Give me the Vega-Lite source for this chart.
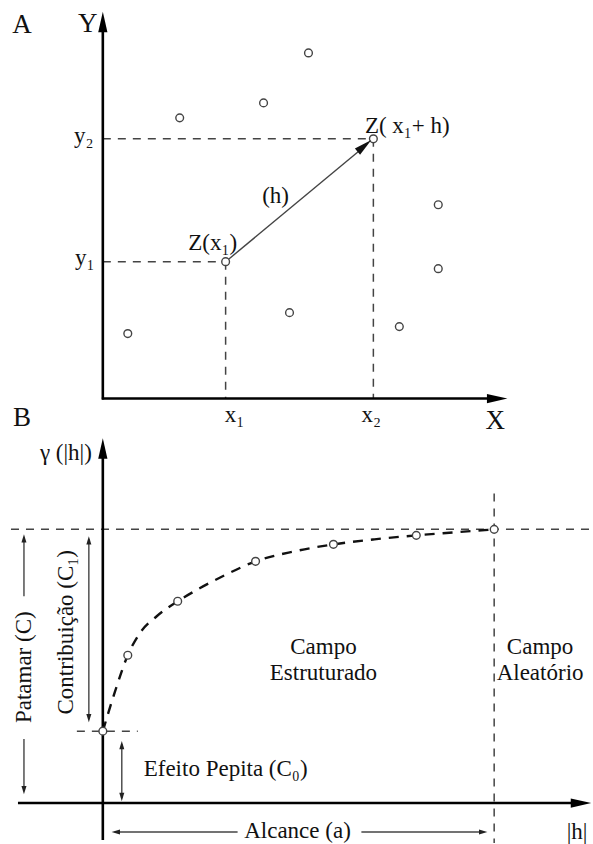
{
  "$schema": "https://vega.github.io/schema/vega-lite/v6.json",
  "width": 593,
  "height": 844,
  "padding": 0,
  "autosize": {"type": "fit", "contains": "padding"},
  "background": "white",
  "config": {"view": {"stroke": null}},
  "datasets": {
    "dashed": [
      {"x": 103, "y": 139, "x2": 374, "y2": 139},
      {"x": 103, "y": 262, "x2": 226, "y2": 262},
      {"x": 226, "y": 262, "x2": 226, "y2": 399},
      {"x": 374, "y": 139, "x2": 374, "y2": 399},
      {"x": 11, "y": 530, "x2": 593, "y2": 530},
      {"x": 495, "y": 494, "x2": 495, "y2": 844},
      {"x": 77, "y": 732, "x2": 138, "y2": 732}
    ],
    "thin": [
      {"x": 226, "y": 262, "x2": 366, "y2": 146},
      {"x": 24, "y": 540, "x2": 24, "y2": 597},
      {"x": 24, "y": 740, "x2": 24, "y2": 792},
      {"x": 89, "y": 540, "x2": 89, "y2": 720},
      {"x": 122, "y": 745, "x2": 122, "y2": 799},
      {"x": 115, "y": 833, "x2": 238, "y2": 833},
      {"x": 362, "y": 833, "x2": 485, "y2": 833}
    ],
    "axes": [
      {"x": 103, "y": 30, "x2": 103, "y2": 400},
      {"x": 102, "y": 399, "x2": 492, "y2": 399},
      {"x": 103, "y": 458, "x2": 103, "y2": 841},
      {"x": 18, "y": 804, "x2": 575, "y2": 804}
    ],
    "curve": [
      {"x": 103, "y": 732},
      {"x": 115, "y": 693},
      {"x": 128, "y": 656},
      {"x": 140, "y": 634},
      {"x": 157, "y": 617},
      {"x": 178, "y": 602},
      {"x": 200, "y": 589},
      {"x": 225, "y": 576},
      {"x": 256, "y": 562},
      {"x": 295, "y": 552},
      {"x": 334, "y": 545},
      {"x": 375, "y": 540},
      {"x": 417, "y": 536},
      {"x": 455, "y": 533},
      {"x": 495, "y": 530}
    ],
    "circles": [
      {"x": 180, "y": 118},
      {"x": 264, "y": 103},
      {"x": 309, "y": 53},
      {"x": 374, "y": 139},
      {"x": 226, "y": 262},
      {"x": 439, "y": 205},
      {"x": 439, "y": 269},
      {"x": 290, "y": 313},
      {"x": 400, "y": 327},
      {"x": 128, "y": 334},
      {"x": 103, "y": 732},
      {"x": 128, "y": 656},
      {"x": 178, "y": 602},
      {"x": 256, "y": 562},
      {"x": 334, "y": 545},
      {"x": 417, "y": 536},
      {"x": 495, "y": 530}
    ],
    "headsBig": [
      {"x": 103, "y": 22, "angle": -90},
      {"x": 498, "y": 399, "angle": 0},
      {"x": 103, "y": 449, "angle": -90},
      {"x": 582, "y": 804, "angle": 0}
    ],
    "headsMid": [
      {"x": 365, "y": 146, "angle": -39.7}
    ],
    "headsSmall": [
      {"x": 24, "y": 539, "angle": -90},
      {"x": 24, "y": 791, "angle": 90},
      {"x": 89, "y": 541, "angle": -90},
      {"x": 89, "y": 719, "angle": 90},
      {"x": 122, "y": 746, "angle": -90},
      {"x": 122, "y": 798, "angle": 90},
      {"x": 116, "y": 833, "angle": 180},
      {"x": 484, "y": 833, "angle": 0}
    ],
    "labelsBig": [
      {"x": 22, "y": 33, "t": "A"},
      {"x": 22, "y": 427, "t": "B"},
      {"x": 88, "y": 32, "t": "Y"},
      {"x": 496, "y": 430, "t": "X"}
    ],
    "labels": [
      {"x": 84, "y": 143, "t": "y₂"},
      {"x": 85, "y": 265, "t": "y₁"},
      {"x": 235, "y": 423, "t": "x₁"},
      {"x": 372, "y": 423, "t": "x₂"},
      {"x": 213, "y": 250, "t": "Z(x₁)"},
      {"x": 408, "y": 133, "t": "Z( x₁+ h)"},
      {"x": 276, "y": 203, "t": "(h)"},
      {"x": 66, "y": 461, "t": "γ (|h|)"},
      {"x": 226, "y": 777, "t": "Efeito Pepita (C₀)"},
      {"x": 324, "y": 655, "t": "Campo"},
      {"x": 324, "y": 681, "t": "Estruturado"},
      {"x": 541, "y": 655, "t": "Campo"},
      {"x": 541, "y": 681, "t": "Aleatório"},
      {"x": 298, "y": 839, "t": "Alcance (a)"},
      {"x": 578, "y": 840, "t": "|h|"}
    ],
    "labelsRot": [
      {"x": 31, "y": 668, "t": "Patamar (C)"},
      {"x": 73, "y": 633, "t": "Contribuição (C₁)"}
    ]
  },
  "encoding": {
    "x": {"field": "x", "type": "quantitative", "axis": null, "scale": {"domain": [0, 593], "nice": false, "zero": false}},
    "y": {"field": "y", "type": "quantitative", "axis": null, "scale": {"domain": [0, 844], "nice": false, "zero": false, "reverse": true}}
  },
  "layer": [
    {
      "data": {"name": "dashed"},
      "mark": {"type": "rule", "color": "#444", "strokeWidth": 1.5, "strokeDash": [8, 7]},
      "encoding": {"x2": {"field": "x2"}, "y2": {"field": "y2"}}
    },
    {
      "data": {"name": "thin"},
      "mark": {"type": "rule", "color": "#444", "strokeWidth": 1.4},
      "encoding": {"x2": {"field": "x2"}, "y2": {"field": "y2"}}
    },
    {
      "data": {"name": "curve"},
      "mark": {"type": "line", "color": "#111", "strokeWidth": 2.4, "strokeDash": [10, 8], "interpolate": "monotone"},
      "encoding": {}
    },
    {
      "data": {"name": "axes"},
      "mark": {"type": "rule", "color": "#000", "strokeWidth": 2.6},
      "encoding": {"x2": {"field": "x2"}, "y2": {"field": "y2"}}
    },
    {
      "data": {"name": "circles"},
      "mark": {"type": "point", "shape": "circle", "filled": true, "fill": "white", "stroke": "#444", "strokeWidth": 1.4, "size": 60, "opacity": 1},
      "encoding": {}
    },
    {
      "data": {"name": "headsBig"},
      "mark": {"type": "point", "shape": "M1,0L-1,-0.45L-1,0.45Z", "filled": true, "color": "#000", "size": 420, "opacity": 1},
      "encoding": {"angle": {"field": "angle", "type": "quantitative", "scale": null}}
    },
    {
      "data": {"name": "headsMid"},
      "mark": {"type": "point", "shape": "M1,0L-1,-0.45L-1,0.45Z", "filled": true, "color": "#111", "size": 324, "opacity": 1},
      "encoding": {"angle": {"field": "angle", "type": "quantitative", "scale": null}}
    },
    {
      "data": {"name": "headsSmall"},
      "mark": {"type": "point", "shape": "M1,0L-1,-0.6L-1,0.6Z", "filled": true, "color": "#222", "size": 70, "opacity": 1},
      "encoding": {"angle": {"field": "angle", "type": "quantitative", "scale": null}}
    },
    {
      "data": {"name": "labelsBig"},
      "mark": {"type": "text", "font": "Liberation Serif, DejaVu Serif", "fontSize": 27, "align": "center", "baseline": "alphabetic", "color": "#111"},
      "encoding": {"text": {"field": "t"}}
    },
    {
      "data": {"name": "labels"},
      "mark": {"type": "text", "font": "Liberation Serif, DejaVu Serif", "fontSize": 23, "align": "center", "baseline": "alphabetic", "color": "#111"},
      "encoding": {"text": {"field": "t"}}
    },
    {
      "data": {"name": "labelsRot"},
      "mark": {"type": "text", "font": "Liberation Serif, DejaVu Serif", "fontSize": 23, "align": "center", "baseline": "alphabetic", "angle": 270, "color": "#111"},
      "encoding": {"text": {"field": "t"}}
    }
  ]
}
